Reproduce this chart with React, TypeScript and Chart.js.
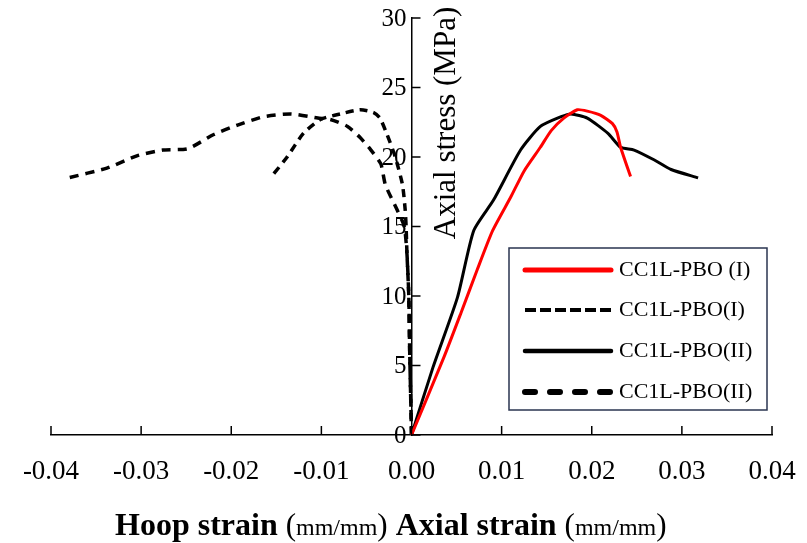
import React, { useEffect, useRef } from "react";
import { Chart, registerables } from "chart.js";

Chart.register(...registerables);

// ---------- data ----------
const seriesLabels = ["CC1L-PBO (I)", "CC1L-PBO(I)", "CC1L-PBO(II)", "CC1L-PBO(II)"];

// Axial strain / stress, specimen I (red)
const axialIStrain = [0, 0.0036, 0.0055, 0.0073, 0.009, 0.011, 0.0125, 0.0143, 0.0155, 0.0169, 0.0184, 0.0195, 0.021, 0.0223, 0.0228, 0.0232, 0.0243];
const axialIStress = [0, 5.6, 8.8, 11.9, 14.7, 17.1, 19.0, 20.7, 21.9, 22.8, 23.4, 23.3, 23.0, 22.4, 21.8, 20.7, 18.6];

// Hoop strain / stress, specimen I (short dashes)
const hoopIStrain = [0, -0.0001, -0.0002, -0.0003, -0.0005, -0.0006, -0.0007, -0.001, -0.0018, -0.0027, -0.0035, -0.0042, -0.0057, -0.0079, -0.0101, -0.012, -0.0138, -0.0154];
const hoopIStress = [0, 3, 6, 10, 13, 15, 16.2, 18.0, 20.0, 21.6, 22.8, 23.2, 23.4, 23.1, 22.7, 21.7, 20.0, 18.7];

// Axial strain / stress, specimen II (black solid)
const axialIIStrain = [0, 0.0024, 0.0051, 0.0069, 0.0091, 0.0121, 0.0143, 0.0166, 0.0177, 0.0195, 0.0218, 0.0232, 0.0247, 0.0269, 0.0288, 0.0318];
const axialIIStress = [0, 4.9, 9.9, 14.7, 16.9, 20.5, 22.2, 22.9, 23.1, 22.8, 21.7, 20.7, 20.5, 19.8, 19.1, 18.5];

// Hoop strain / stress, specimen II (long dashes)
const hoopIIStrain = [0, -0.0001, -0.0002, -0.0003, -0.0005, -0.0008, -0.0016, -0.0029, -0.0034, -0.0045, -0.0057, -0.0071, -0.009, -0.0104, -0.0134, -0.0164, -0.0193, -0.022, -0.0248, -0.0276, -0.0304, -0.0338, -0.0381];
const hoopIIStress = [0, 3, 6, 10, 13, 15, 16.2, 18.0, 19.5, 20.5, 21.4, 22.2, 22.7, 22.8, 23.1, 22.9, 22.3, 21.6, 20.6, 20.5, 20.1, 19.2, 18.5];

const xMin = -0.04, xMax = 0.04, xStep = 0.01;
const yMin = 0, yMax = 30, yStep = 5;

const yTitle = "Axial stress (MPa)";
const xTitleParts = [
  { text: "Hoop strain ", kind: "bold" },
  { text: "(", kind: "paren" },
  { text: "mm/mm", kind: "small" },
  { text: ")", kind: "paren" },
  { text: " Axial strain ", kind: "bold" },
  { text: "(", kind: "paren" },
  { text: "mm/mm", kind: "small" },
  { text: ")", kind: "paren" },
];

const SERIF = '"Liberation Serif", "Times New Roman", serif';

const pts = (xs: number[], ys: number[]) => xs.map((x, i) => ({ x, y: ys[i] }));

const decorPlugin = {
  id: "decor",
  afterDraw(chart: any) {
    const { ctx, scales } = chart;
    const x = scales.x, y = scales.y;
    const x0 = x.getPixelForValue(0);
    const yb = y.getPixelForValue(0);
    ctx.save();
    ctx.strokeStyle = "#000";
    ctx.lineWidth = 1.5;
    ctx.beginPath();
    x.ticks.forEach((t: any) => {
      const px = x.getPixelForValue(t.value);
      ctx.moveTo(px, yb);
      ctx.lineTo(px, yb - 9);
    });
    y.ticks.forEach((t: any) => {
      const py = y.getPixelForValue(t.value);
      ctx.moveTo(x0, py);
      ctx.lineTo(x0 + 9, py);
    });
    ctx.stroke();

    // y tick labels, left of the centred axis
    ctx.fillStyle = "#000";
    ctx.font = `25px ${SERIF}`;
    ctx.textAlign = "right";
    ctx.textBaseline = "middle";
    y.ticks.forEach((t: any) => {
      const py = y.getPixelForValue(t.value);
      ctx.fillText(String(t.label), x0 - 5, py + 1);
    });

    // y title (rotated, right of the axis)
    ctx.save();
    ctx.translate(x0 + 35, 123);
    ctx.rotate(-Math.PI / 2);
    ctx.font = `31px ${SERIF}`;
    ctx.textAlign = "center";
    ctx.textBaseline = "middle";
    ctx.fillText(yTitle, 0, 0);
    ctx.restore();

    // x title with mixed fonts
    let cx = 115;
    ctx.textBaseline = "alphabetic";
    ctx.textAlign = "left";
    xTitleParts.forEach((p) => {
      ctx.font = p.kind === "bold" ? `bold 32px ${SERIF}` : p.kind === "paren" ? `31px ${SERIF}` : `24px ${SERIF}`;
      ctx.fillText(p.text, cx, 535);
      cx += ctx.measureText(p.text).width;
    });

    // legend box
    const lx = 509, ly = 248, lw = 258, lh = 162;
    ctx.strokeStyle = "#2a3550";
    ctx.lineWidth = 1.5;
    ctx.strokeRect(lx, ly, lw, lh);
    const rows = [270, 310, 351, 392];
    chart.data.datasets.forEach((ds: any, i: number) => {
      const ry = rows[i];
      ctx.save();
      ctx.strokeStyle = ds.borderColor;
      ctx.lineWidth = ds.legendWidth;
      ctx.lineCap = ds.legendCap;
      ctx.setLineDash(ds.legendDash);
      ctx.beginPath();
      ctx.moveTo(525, ry);
      ctx.lineTo(611, ry);
      ctx.stroke();
      ctx.restore();
      ctx.font = `22px ${SERIF}`;
      ctx.fillStyle = "#000";
      ctx.textAlign = "left";
      ctx.textBaseline = "middle";
      ctx.fillText(ds.label, 619, ry);
    });
    ctx.restore();
  },
};

export default function App() {
  const ref = useRef<HTMLCanvasElement | null>(null);
  useEffect(() => {
    if (!ref.current) return;
    const chart = new Chart(ref.current, {
      type: "scatter",
      data: {
        datasets: [
          {
            label: seriesLabels[0], data: pts(axialIStrain, axialIStress), showLine: true,
            borderColor: "#ff0000", borderWidth: 3, pointRadius: 0, tension: 0.2,
            legendWidth: 5, legendCap: "round", legendDash: [],
          } as any,
          {
            label: seriesLabels[1], data: pts(hoopIStrain, hoopIStress), showLine: true,
            borderColor: "#000", borderWidth: 3.5, borderDash: [8, 6], pointRadius: 0, tension: 0.2,
            legendWidth: 4, legendCap: "butt", legendDash: [11, 4],
          } as any,
          {
            label: seriesLabels[2], data: pts(axialIIStrain, axialIIStress), showLine: true,
            borderColor: "#000", borderWidth: 3, pointRadius: 0, tension: 0.2,
            legendWidth: 4.5, legendCap: "round", legendDash: [],
          } as any,
          {
            label: seriesLabels[3], data: pts(hoopIIStrain, hoopIIStress), showLine: true,
            borderColor: "#000", borderWidth: 3.5, borderDash: [9, 7], pointRadius: 0, tension: 0.2,
            legendWidth: 6, legendCap: "round", legendDash: [10, 15],
          } as any,
        ],
      },
      options: {
        responsive: false,
        animation: false,
        layout: { padding: { left: 51, right: 35, top: 18, bottom: 0 } },
        plugins: { legend: { display: false }, tooltip: { enabled: false } },
        scales: {
          x: {
            type: "linear", position: "bottom", min: xMin, max: xMax,
            afterFit: (s: any) => { s.height = 108; },
            grid: { drawOnChartArea: false, drawTicks: true, tickLength: 21, tickColor: "rgba(0,0,0,0)" },
            border: { color: "#000", width: 1.5 },
            ticks: {
              stepSize: xStep, padding: 0, color: "#000",
              font: { family: SERIF, size: 27 },
              callback: (v: any) => (Math.abs(Number(v)) < 1e-9 ? "0.00" : Number(v).toFixed(2)),
            },
          },
          y: {
            type: "linear", position: { x: 0 } as any, min: yMin, max: yMax,
            grid: { drawOnChartArea: false, drawTicks: false },
            border: { color: "#000", width: 1.5 },
            ticks: { stepSize: yStep, display: false },
          },
        },
      } as any,
      plugins: [decorPlugin],
    });
    return () => chart.destroy();
  }, []);
  return (
    <div style={{ position: "fixed", left: 0, top: 0, width: 807, height: 543, background: "#fff" }}>
      <canvas ref={ref} width={807} height={543} style={{ width: 807, height: 543 }} />
    </div>
  );
}
